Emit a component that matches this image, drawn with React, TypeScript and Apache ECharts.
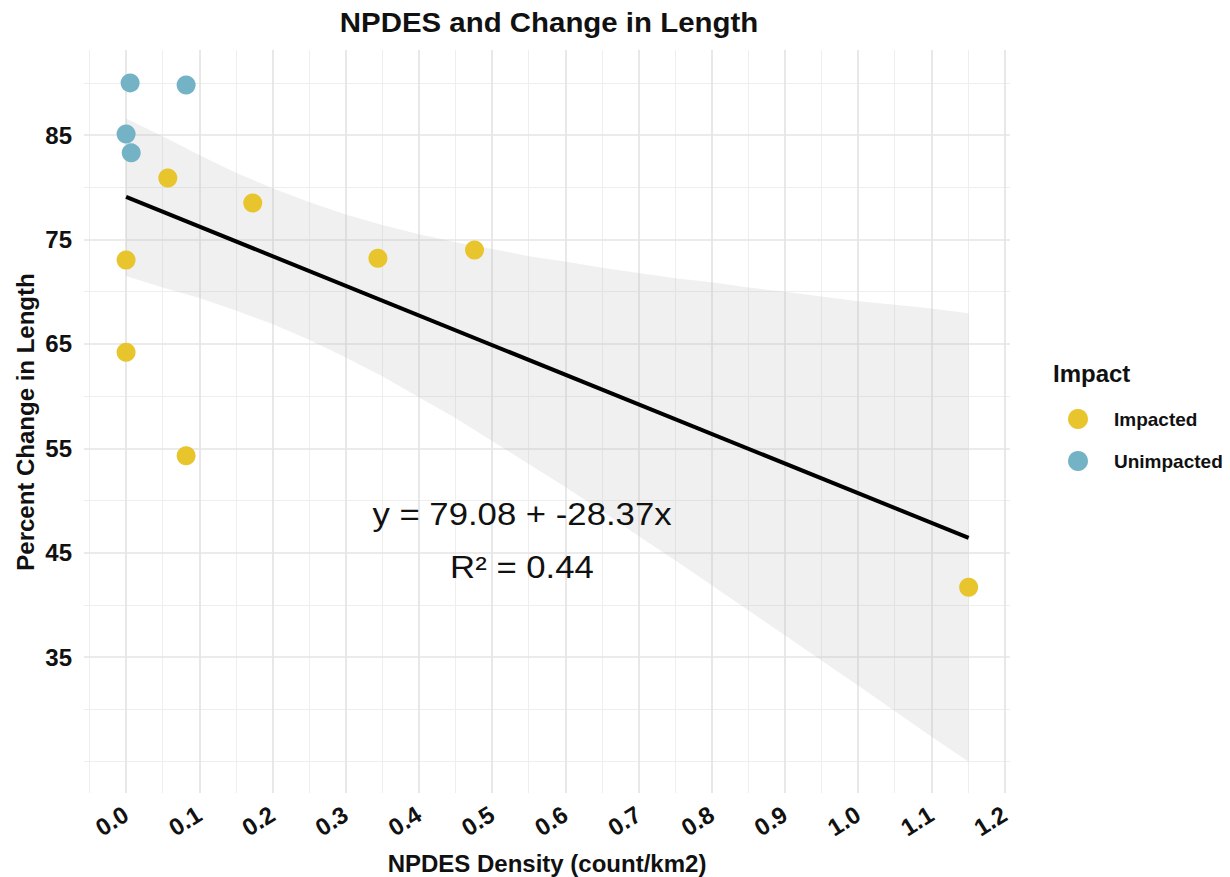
import React, { useEffect, useRef } from 'react';
import * as echarts from 'echarts';

// ---- data ----
const impactedX = [0.057, 0.173, 0.0, 0.344, 0.476, 0.0, 0.082, 1.151];
const impactedY = [80.9, 78.5, 73.05, 73.2, 74.0, 64.2, 54.3, 41.7];
const unimpactedX = [0.0055, 0.082, 0.0, 0.007];
const unimpactedY = [90.0, 89.8, 85.1, 83.3];

// fitted regression line (end points) and its confidence band (edges)
const fitX = [0, 1.151];
const fitY = [79.08, 46.43];
const bandX = [0, 0.05, 0.1, 0.15, 0.2, 0.25, 0.3, 0.35, 0.4, 0.45, 0.5, 0.55, 0.6, 0.65, 0.7, 0.75, 0.8, 0.85, 0.9, 0.95, 1.0, 1.05, 1.1, 1.151];
const bandUpper = [86.6, 84.9, 83.1, 81.4, 79.9, 78.6, 77.4, 76.4, 75.5, 74.75, 74.1, 73.4, 72.9, 72.3, 71.8, 71.3, 70.9, 70.4, 70.0, 69.55, 69.1, 68.75, 68.4, 67.95];
const bandLower = [71.5, 70.4, 69.4, 68.2, 66.9, 65.4, 63.7, 61.9, 59.9, 57.9, 55.7, 53.5, 51.3, 49.0, 46.6, 44.3, 41.9, 39.5, 37.1, 34.7, 32.3, 29.85, 27.4, 25.0];

// axis ticks
const xMajorTicks = [0, 0.1, 0.2, 0.3, 0.4, 0.5, 0.6, 0.7, 0.8, 0.9, 1.0, 1.1, 1.2];
const xMinorTicks = [-0.05, 0.05, 0.15, 0.25, 0.35, 0.45, 0.55, 0.65, 0.75, 0.85, 0.95, 1.05, 1.15];
const yMajorTicks = [35, 45, 55, 65, 75, 85];
const yMinorTicks = [25, 30, 40, 50, 60, 70, 80, 90];

const titleText = 'NPDES and Change in Length';
const xTitle = 'NPDES Density (count/km2)';
const yTitle = 'Percent Change in Length';
const legendTitle = 'Impact';
const equationText = 'y = 79.08 + -28.37x';
const r2Text = 'R\u00B2 = 0.44';

const YELLOW = '#E8C52C';
const BLUE = '#74B3C6';
const FONT = '"Liberation Sans", Arial, Helvetica, sans-serif';

export default function App() {
  const ref = useRef<HTMLDivElement>(null);

  useEffect(() => {
    if (!ref.current) return;
    const chart = echarts.init(ref.current, undefined, { renderer: 'svg' });

    const X_MIN = -0.0575;
    const X_MAX = 1.2075;
    const Y_MIN = 22.0;
    const Y_MAX = 93.15;

    const majorLine = { show: true, lineStyle: { color: '#e4e4e4', width: 1.7 } };
    const minorLine = { show: true, lineStyle: { color: '#eeeeee', width: 1.1 } };

    const option: any = {
      animation: false,
      backgroundColor: '#ffffff',
      textStyle: { fontFamily: FONT },
      grid: { left: 84, right: 220, top: 50, bottom: 84 },
      xAxis: [
        {
          type: 'value',
          min: X_MIN,
          max: X_MAX,
          axisLine: { show: false },
          axisTick: { show: false, customValues: xMajorTicks },
          axisLabel: {
            customValues: xMajorTicks,
            formatter: (v: number) => v.toFixed(1),
            rotate: 32,
            margin: 19,
            color: '#111',
            fontWeight: 'bold',
            fontSize: 24,
            fontFamily: FONT,
          },
          splitLine: majorLine,
          z: 1,
        },
        {
          type: 'value',
          min: X_MIN,
          max: X_MAX,
          position: 'bottom',
          axisLine: { show: false },
          axisTick: { show: false, customValues: xMinorTicks },
          axisLabel: { show: false },
          splitLine: minorLine,
          z: 0,
        },
      ],
      yAxis: [
        {
          type: 'value',
          min: Y_MIN,
          max: Y_MAX,
          axisLine: { show: false },
          axisTick: { show: false, customValues: yMajorTicks },
          axisLabel: {
            customValues: yMajorTicks,
            margin: 12,
            color: '#111',
            fontWeight: 'bold',
            fontSize: 24,
            fontFamily: FONT,
          },
          splitLine: majorLine,
          z: 1,
        },
        {
          type: 'value',
          min: Y_MIN,
          max: Y_MAX,
          position: 'left',
          axisLine: { show: false },
          axisTick: { show: false, customValues: yMinorTicks },
          axisLabel: { show: false },
          splitLine: minorLine,
          z: 0,
        },
      ],
      legend: {
        data: ['Impacted', 'Unimpacted'],
        orient: 'vertical',
        left: 1063,
        top: 404,
        icon: 'circle',
        itemWidth: 20,
        itemHeight: 20,
        itemGap: 22,
        textStyle: {
          fontFamily: FONT,
          fontWeight: 'bold',
          fontSize: 19,
          color: '#111',
          padding: [0, 0, 0, 21],
        },
      },
      graphic: [
        {
          type: 'text',
          x: 549,
          y: 22,
          scaleX: 1.09,
          style: {
            text: titleText,
            fontFamily: FONT,
            fontWeight: 'bold',
            fontSize: 27,
            fill: '#111',
            align: 'center',
            verticalAlign: 'middle',
          },
        },
        {
          type: 'text',
          x: 547,
          y: 863,
          style: {
            text: xTitle,
            fontFamily: FONT,
            fontWeight: 'bold',
            fontSize: 24,
            fill: '#111',
            align: 'center',
            verticalAlign: 'middle',
          },
        },
        {
          type: 'text',
          x: 25,
          y: 422,
          rotation: Math.PI / 2,
          style: {
            text: yTitle,
            fontFamily: FONT,
            fontWeight: 'bold',
            fontSize: 24,
            fill: '#111',
            align: 'center',
            verticalAlign: 'middle',
          },
        },
        {
          type: 'text',
          x: 1053,
          y: 373,
          style: {
            text: legendTitle,
            fontFamily: FONT,
            fontWeight: 'bold',
            fontSize: 24,
            fill: '#111',
            align: 'left',
            verticalAlign: 'middle',
          },
        },
        {
          type: 'text',
          x: 522,
          y: 514,
          scaleX: 1.12,
          z: 100,
          style: {
            text: equationText,
            fontFamily: FONT,
            fontSize: 31,
            fill: '#111',
            align: 'center',
            verticalAlign: 'middle',
          },
        },
        {
          type: 'text',
          x: 522,
          y: 567,
          scaleX: 1.12,
          z: 100,
          style: {
            text: r2Text,
            fontFamily: FONT,
            fontSize: 31,
            fill: '#111',
            align: 'center',
            verticalAlign: 'middle',
          },
        },
      ],
      series: [
        {
          name: 'band',
          type: 'custom',
          coordinateSystem: 'cartesian2d',
          silent: true,
          z: 2,
          data: bandX.map((x, i) => [x, bandUpper[i], bandLower[i]]),
          renderItem: (params: any, api: any) => {
            if (params.dataIndex !== 0) return null;
            const pts: number[][] = [];
            for (let i = 0; i < bandX.length; i++) pts.push(api.coord([bandX[i], bandUpper[i]]));
            for (let i = bandX.length - 1; i >= 0; i--) pts.push(api.coord([bandX[i], bandLower[i]]));
            return {
              type: 'polygon',
              shape: { points: pts },
              style: { fill: 'rgba(185,185,185,0.22)' },
            };
          },
        },
        {
          name: 'fit',
          type: 'line',
          z: 3,
          showSymbol: false,
          silent: true,
          data: fitX.map((x, i) => [x, fitY[i]]),
          lineStyle: { color: '#000', width: 4 },
        },
        {
          name: 'Impacted',
          type: 'scatter',
          z: 4,
          symbolSize: 19,
          itemStyle: { color: YELLOW, opacity: 1 },
          data: impactedX.map((x, i) => [x, impactedY[i]]),
        },
        {
          name: 'Unimpacted',
          type: 'scatter',
          z: 4,
          symbolSize: 19,
          itemStyle: { color: BLUE, opacity: 1 },
          data: unimpactedX.map((x, i) => [x, unimpactedY[i]]),
        },
      ],
    };

    chart.setOption(option);
    return () => chart.dispose();
  }, []);

  return (
    <div
      ref={ref}
      style={{ position: 'fixed', left: 0, top: 0, width: 1230, height: 877, background: '#fff' }}
    />
  );
}
